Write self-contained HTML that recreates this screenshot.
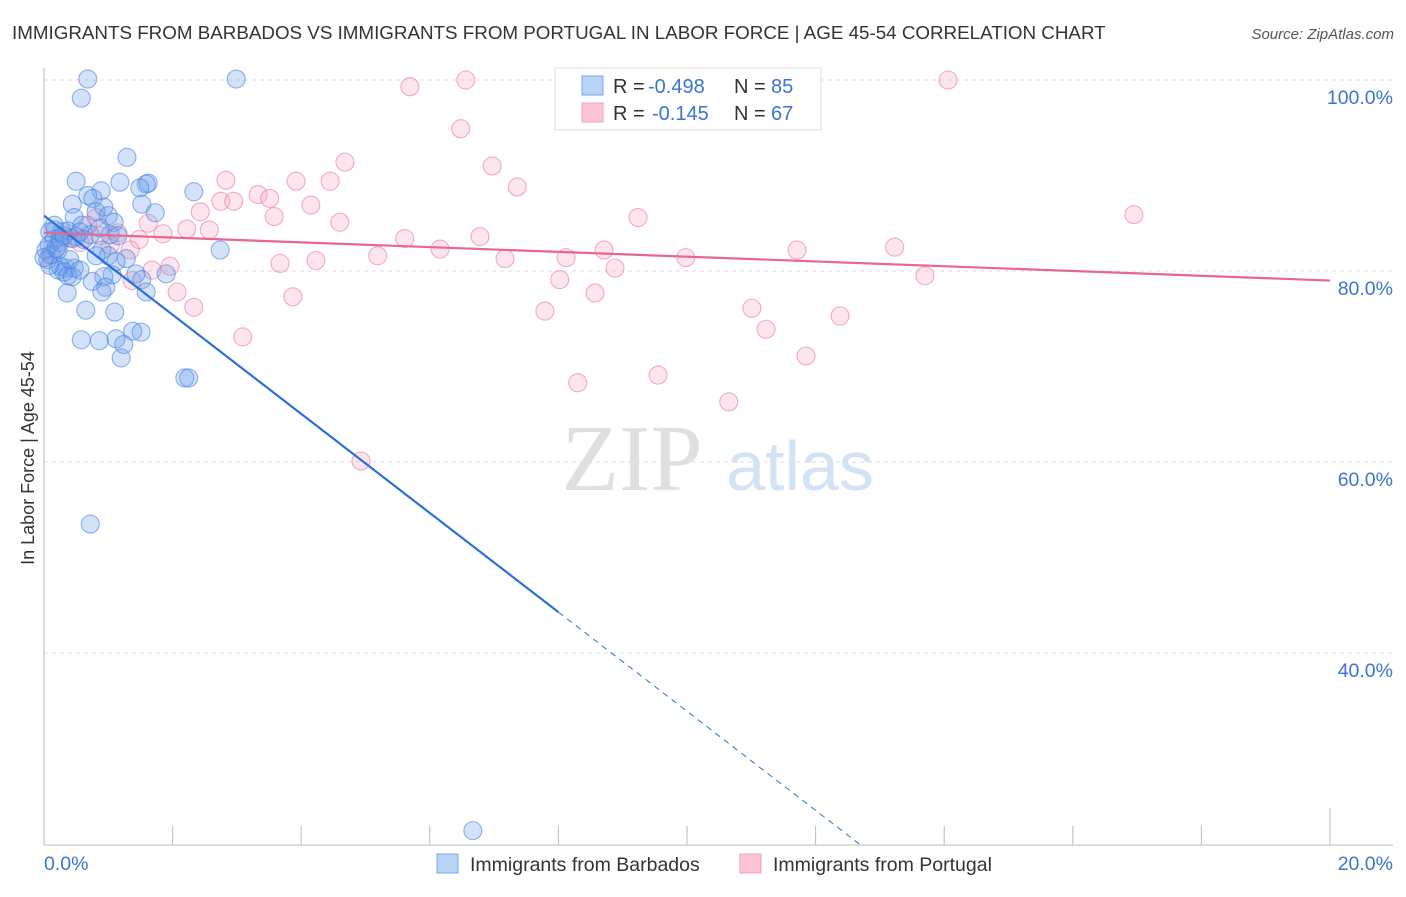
<!DOCTYPE html>
<html><head><meta charset="utf-8"><style>
body{margin:0;background:#fff;font-family:"Liberation Sans",sans-serif}
</style></head><body>
<svg id="chart" width="1406" height="892" xmlns="http://www.w3.org/2000/svg" font-family="Liberation Sans, sans-serif">
<text x="12" y="39" font-size="18.8" fill="#333">IMMIGRANTS FROM BARBADOS VS IMMIGRANTS FROM PORTUGAL IN LABOR FORCE | AGE 45-54 CORRELATION CHART</text>
<text x="1394" y="39" font-size="15" fill="#555" font-style="italic" text-anchor="end">Source: ZipAtlas.com</text>
<text transform="translate(34,458) rotate(-90)" font-size="18" fill="#333" text-anchor="middle">In Labor Force | Age 45-54</text>
<g opacity="0.9">
<text x="632" y="490" font-family="Liberation Serif, serif" font-size="94" fill="#dcdcdc" text-anchor="middle">ZIP</text>
<text x="800" y="490" font-size="70" fill="#cfe0f3" text-anchor="middle">atlas</text>
</g>
<g id="grid"></g><g id="axes"></g><g id="marks"></g><g id="lines"></g>
<g>
<rect x="555" y="68" width="266" height="62" fill="#fff" stroke="#ddd"/>
<rect x="582" y="76" width="21" height="19" fill="#b8d3f5" stroke="#7aa6e6"/>
<rect x="582" y="103" width="21" height="19" fill="#fcc5d5" stroke="#f0a0bb"/>
<text x="613" y="93" font-size="20" fill="#333">R =</text>
<text x="648" y="93" font-size="20" fill="#3b73d6">-0.498</text>
<text x="734" y="93" font-size="20" fill="#333">N =</text>
<text x="771" y="93" font-size="20" fill="#3b73d6">85</text>
<text x="613" y="120" font-size="20" fill="#333">R =</text>
<text x="652" y="120" font-size="20" fill="#3b73d6">-0.145</text>
<text x="734" y="120" font-size="20" fill="#333">N =</text>
<text x="771" y="120" font-size="20" fill="#3b73d6">67</text>
</g>
<g>
<rect x="437" y="854" width="21" height="19" fill="#b8d3f5" stroke="#7aa6e6"/>
<text x="470" y="871" font-size="19.5" fill="#333">Immigrants from Barbados</text>
<rect x="740" y="854" width="21" height="19" fill="#fcc5d5" stroke="#f0a0bb"/>
<text x="773" y="871" font-size="19.5" fill="#333">Immigrants from Portugal</text>
</g>
</svg>
<script>
const yTicks=[100,80,60,40];
const yTickLabels=["100.0%","80.0%","60.0%","40.0%"];
const xTickLabels=["0.0%","20.0%"];
const blueX=[0.68,0.58,2.99,1.29,0.50,1.18,1.62,1.59,1.49,2.33,0.89,0.68,0.76,0.44,1.52,0.93,0.81,1.73,0.47,1.00,1.09,0.59,0.09,0.17,0.28,0.37,0.72,1.03,1.15,0.16,0.25,0.44,0.08,0.56,0.90,2.74,1.00,0.12,0.06,1.28,0.25,0.34,0.47,0.22,0.31,0.37,0.44,1.06,0.93,1.43,1.90,1.52,0.75,0.96,0.90,0.36,1.59,0.65,1.10,0.58,0.86,1.12,1.38,1.51,1.24,1.20,2.19,2.25,0.72,6.67,0.03,0.09,0.19,0.25,0.31,0.62,0.50,0.81,0.16,0.40,0.87,1.12,0.56,0.22,0.00];
const blueY=[100.1,98.1,100.1,91.9,89.4,89.3,89.2,89.1,88.7,88.3,88.4,87.9,87.6,87.0,87.0,86.7,86.2,86.1,85.6,85.8,85.1,84.8,84.1,84.3,84.1,84.2,83.8,83.8,83.7,83.3,83.5,83.4,82.7,84.1,82.2,82.2,81.6,81.7,81.2,81.3,80.5,80.3,80.3,80.1,79.9,79.5,79.4,79.6,79.4,79.7,79.7,79.1,78.9,78.3,77.8,77.7,77.8,75.9,75.7,72.8,72.7,72.9,73.7,73.6,72.3,70.9,68.8,68.8,53.5,21.4,82.2,80.6,82.4,83.0,83.7,83.3,83.6,81.6,84.8,81.2,84.5,81.0,80.1,82.2,81.4];
const pinkX=[6.56,14.06,5.69,6.48,4.68,6.97,2.83,3.92,4.45,7.36,3.33,3.51,2.75,2.95,4.15,2.43,3.58,16.95,9.24,4.60,1.62,2.22,2.57,0.81,1.85,1.15,1.48,6.78,5.61,6.16,13.23,8.71,11.71,5.19,8.12,7.17,9.98,3.67,4.23,1.96,1.68,8.88,8.02,1.37,13.70,2.07,8.57,3.87,2.33,7.79,11.01,12.38,11.23,3.09,11.85,8.30,9.55,10.65,4.93,0.25,0.40,0.87,0.68,1.34,1.03,0.09,0.56];
const pinkY=[100.0,100.0,99.3,94.9,91.4,91.0,89.5,89.4,89.4,88.8,88.0,87.6,87.3,87.3,86.9,86.2,85.7,85.9,85.6,85.1,85.0,84.4,84.3,85.6,83.9,84.0,83.3,83.6,83.4,82.3,82.5,82.2,82.2,81.6,81.4,81.3,81.4,80.8,81.1,80.5,80.1,80.3,79.1,79.0,79.5,77.8,77.7,77.3,76.2,75.8,76.1,75.3,73.9,73.1,71.1,68.3,69.1,66.3,60.1,83.3,83.5,83.7,84.8,82.2,82.7,81.7,83.0];
const blueFit=[85.8,-5.19];
const pinkFit=[84.0,-0.25];
const NS="http://www.w3.org/2000/svg";
const xs=v=>44+v*64.3, ys=v=>844-(v-20)*9.55;
function mk(tag,attrs,parent){const e=document.createElementNS(NS,tag);for(const k in attrs)e.setAttribute(k,attrs[k]);document.getElementById(parent).appendChild(e);return e;}
yTicks.forEach((t,i)=>{
 const g=mk('line',{x1:44,x2:1393,y1:ys(t),y2:ys(t),stroke:'#ddd','stroke-dasharray':'4,4'},'grid');
 
 
 const l=mk('text',{x:1393,y:ys(t)+24,'font-size':19.5,fill:'#3b73d6','text-anchor':'end'},'axes');
 l.textContent=yTickLabels[i];
 
 
});
let a=mk('line',{x1:44,x2:44,y1:68,y2:845,stroke:'#bbb'},'axes');


a=mk('line',{x1:44,x2:1393,y1:845,y2:845,stroke:'#bbb'},'axes');


for(let i=1;i<=10;i++){
 const t=mk('line',{x1:xs(i*2),x2:xs(i*2),y1:i==10?808:826,y2:845,stroke:'#bbb'},'axes');
 
 
}
[[0,'start',44],[20,'end',1393]].forEach((d,i)=>{
 const l=mk('text',{x:d[2],y:870,'font-size':19.5,fill:'#3b73d6','text-anchor':d[1]},'axes');
 l.textContent=xTickLabels[i];
 
 
});
pinkX.forEach((x,i)=>{
 const c=mk('circle',{cx:xs(x),cy:ys(pinkY[i]),r:9,fill:'rgba(245,160,190,0.28)',stroke:'rgba(235,130,165,0.65)','stroke-width':1.1},'marks');
 
 
});
blueX.forEach((x,i)=>{
 const c=mk('circle',{cx:xs(x),cy:ys(blueY[i]),r:9,fill:'rgba(110,160,235,0.3)',stroke:'rgba(70,130,225,0.6)','stroke-width':1.1},'marks');
 
 
});
const bx2=8, bx3=(20-blueFit[0])/blueFit[1];
let ln=mk('line',{x1:xs(0),y1:ys(blueFit[0]),x2:xs(bx2),y2:ys(blueFit[0]+blueFit[1]*bx2),stroke:'#2b6fd8','stroke-width':2.2},'lines');


ln=mk('line',{x1:xs(bx2),y1:ys(blueFit[0]+blueFit[1]*bx2),x2:xs(bx3),y2:ys(20),stroke:'#2b6fd8','stroke-width':1,'stroke-dasharray':'6,5'},'lines');


ln=mk('line',{x1:xs(0),y1:ys(pinkFit[0]),x2:xs(20),y2:ys(pinkFit[0]+pinkFit[1]*20),stroke:'#e8668f','stroke-width':2.2},'lines');


</script>
</body></html>
